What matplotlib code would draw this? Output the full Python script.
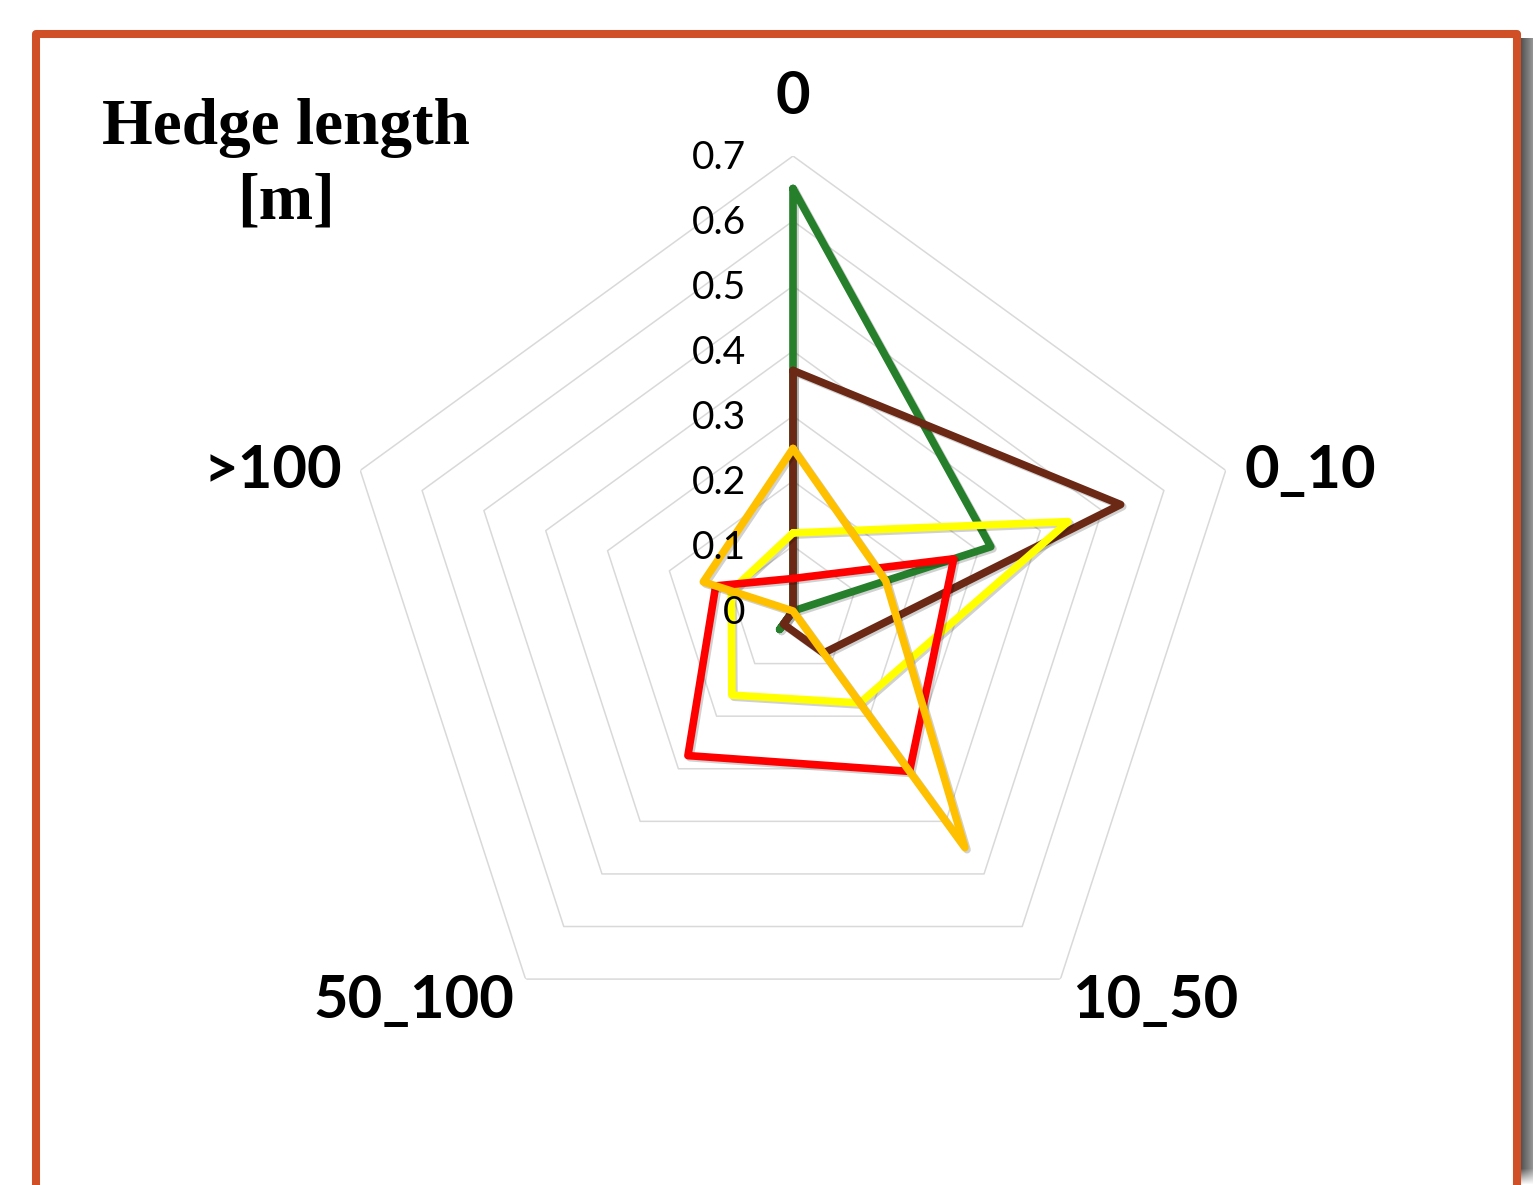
import numpy as np
import matplotlib.pyplot as plt
import matplotlib.patheffects as pe

# hedge length classes (radar axes, clockwise from the top)
categories = ['0', '0_10', '10_50', '50_100', '>100']

# share of each class per group
green = [0.65, 0.32, 0.0, 0.035, 0.0]
brown = [0.37, 0.53, 0.08, 0.025, 0.0]
yellow = [0.12, 0.445, 0.175, 0.16, 0.10]
red = [0.05, 0.26, 0.305, 0.275, 0.125]
orange = [0.25, 0.15, 0.45, 0.0, 0.145]

rticks = [0, 0.1, 0.2, 0.3, 0.4, 0.5, 0.6, 0.7]

series = [(green, '#267F2B'), (brown, '#6A2815'), (yellow, '#FFFF00'),
          (red, '#FF0000'), (orange, '#FFC000')]

W, H = 1533, 1185
fig = plt.figure(figsize=(W / 100, H / 100), dpi=100)

# radar area: centre and outer radius in pixels
cx, cy, R = 793, 611, 455
ax = fig.add_axes([(cx - R) / W, (H - cy - R) / H, 2 * R / W, 2 * R / H],
                  projection='polar')
ax.set_theta_zero_location('N')
ax.set_theta_direction(-1)
ax.set_ylim(0, 0.7)
ax.grid(False)
ax.spines['polar'].set_visible(False)
ax.set_xticks([])
ax.set_yticks([])
ax.patch.set_alpha(0)

theta = np.linspace(0, 2 * np.pi, len(categories), endpoint=False)
closed = np.append(theta, theta[0])

# pentagon gridlines
for r in rticks[1:]:
    ax.plot(closed, [r] * len(closed), color='#D9D9D9', lw=1.1, zorder=1)

shadow = [pe.SimpleLineShadow(offset=(1.5, -1.5), shadow_color='k', alpha=0.18),
          pe.Normal()]
for vals, col in series:
    ax.plot(closed, vals + vals[:1], color=col, lw=5.5, zorder=3,
            solid_joinstyle='round', solid_capstyle='round',
            path_effects=shadow)

# radial value labels, left of the top axis
for r in rticks:
    ax.annotate(f'{r:g}', xy=(0, r), xytext=(-34, -1.5),
                textcoords='offset points', ha='right', va='center',
                fontsize=28, family='Lato', color='black', zorder=5)

# category labels outside the outer pentagon
for ang, lab in zip(theta, categories):
    s, c = np.sin(ang), np.cos(ang)
    ha = 'left' if s > 0.1 else ('right' if s < -0.1 else 'center')
    if c > 0.9:
        ax.text(ang, 0.75, lab, ha=ha, va='bottom', fontsize=43,
                family='Lato', weight='bold')
    else:
        ax.annotate(lab, xy=(ang, 0.73), xytext=(0, -4.5),
                    textcoords='offset points', ha=ha, va='center',
                    fontsize=43, family='Lato', weight='bold',
                    annotation_clip=False)

fig.text(286 / W, 1 - 98 / H, 'Hedge length\n[m]', ha='center', va='top',
         multialignment='center', linespacing=1.32, fontsize=47,
         family='Liberation Serif', weight='bold')

# outer frame, open at the bottom
frame = plt.Rectangle((35.5 / W, -0.05), (1517 - 35.5) / W, 1.05 - 34 / H,
                      transform=fig.transFigure, fill=False,
                      edgecolor='#D04F27', lw=5.8, joinstyle='round',
                      zorder=10)
fig.patches.append(frame)

# soft shadow along the right side of the frame
sh = fig.add_axes([1521 / W, 0, (W - 1521) / W, (H - 38) / H])
gx = np.linspace(0.33, 0.58, 12)
gy = np.clip(np.linspace(0, 1, H - 38) * (H - 38) / 16, 0, 1)
rgba = np.ones((H - 38, 12, 4))
rgba[..., 0] = rgba[..., 1] = rgba[..., 2] = gx[None, :]
rgba[..., 3] = gy[::-1][:, None]
sh.imshow(rgba, aspect='auto', extent=(0, 1, 0, 1))
sh.set_axis_off()

fig.savefig('out.png', dpi=100)
